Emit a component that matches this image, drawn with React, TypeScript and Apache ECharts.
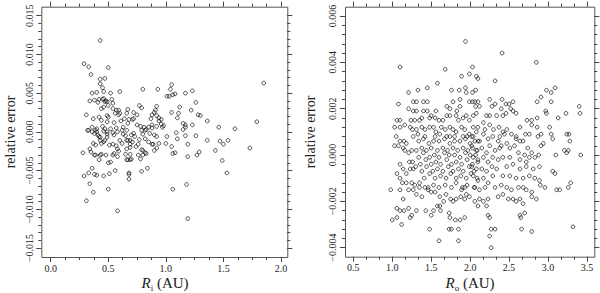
import React, { useEffect, useRef } from "react";
import * as echarts from "echarts";

// Left panel: inner radius R_i (AU) vs relative error
const innerPoints: [number, number][] = [
  [0.43,0.0118],[0.29,0.0088],[0.33,0.0084],[0.50,0.0083],[0.35,0.0074],[0.43,0.0068],[0.47,0.0069],[0.43,0.0062],[0.45,0.0057],[1.85,0.0063],
  [0.46,0.0052],[0.36,0.0050],[0.40,0.0051],[0.52,0.0050],[0.60,0.0052],[0.80,0.0055],[0.93,0.0055],[1.05,0.0061],[1.04,0.0055],[1.06,0.0048],
  [1.08,0.0049],[1.01,0.0046],[1.03,0.0046],[1.17,0.0050],[1.23,0.0053],[1.26,0.0038],[1.22,0.0028],[1.12,0.0032],[1.28,0.0022],[1.30,0.0021],
  [1.11,0.0024],[1.10,0.0018],[1.05,0.0025],[0.98,0.0008],[0.97,0.0006],[0.94,0.0014],[0.94,0.0018],[0.92,0.0021],[0.92,0.0033],[0.91,0.0028],
  [0.90,0.0025],[0.88,0.0022],[0.87,0.0017],[0.88,0.0005],[0.86,-0.0002],[0.90,-0.0004],[0.92,-0.0006],[0.92,-0.0021],[0.90,-0.0024],[0.94,-0.0015],
  [1.00,-0.0015],[1.05,-0.0019],[1.06,-0.0028],[1.08,-0.0027],[1.01,-0.0006],[1.10,-0.0009],[1.09,-0.0001],[1.17,-0.0005],[1.17,0.0006],[1.17,0.0009],
  [1.23,0.0009],[1.26,-0.0005],[1.36,-0.0011],[1.36,0.0014],[1.46,0.0006],[1.60,0.0004],[1.79,0.0013],[1.47,-0.0012],[1.54,-0.0011],[1.50,-0.0016],
  [1.43,-0.0024],[1.73,-0.0021],[1.49,-0.0037],[1.53,-0.0053],[1.29,-0.0026],[1.27,-0.0030],[1.19,-0.0032],[1.19,-0.0016],[1.18,-0.0068],[1.06,-0.0074],
  [1.19,-0.0112],[0.58,-0.0102],[0.31,-0.0089],[0.37,-0.0078],[0.34,-0.0067],[0.29,-0.0057],[0.33,-0.0053],[0.36,-0.0047],[0.38,-0.0055],[0.40,-0.0056],
  [0.46,-0.0057],[0.50,-0.0074],[0.51,-0.0054],[0.56,-0.0050],[0.68,-0.0053],[0.68,-0.0055],[0.68,-0.0061],[0.79,-0.0051],[0.84,-0.0047],[0.50,-0.0040],
  [0.52,-0.0039],[0.28,-0.0027],[0.34,-0.0022],[0.35,-0.0026],[0.38,-0.0030],[0.39,-0.0030],[0.42,-0.0036],[0.43,-0.0030],[0.44,-0.0029],[0.48,-0.0030],
  [0.54,-0.0030],[0.58,-0.0032],[0.66,-0.0036],[0.67,-0.0036],[0.69,-0.0036],[0.70,-0.0035],[0.65,-0.0029],[0.69,-0.0029],[0.76,-0.0030],[0.78,-0.0035],
  [0.80,-0.0030],[0.82,-0.0027],[0.79,-0.0023],[0.80,-0.0024],[0.83,-0.0028],[0.74,-0.0019],[0.76,-0.0016],[0.69,-0.0016],[0.71,-0.0013],[0.69,-0.0011],
  [0.73,-0.0006],[0.77,-0.0010],[0.80,-0.0003],[0.79,0.0002],[0.82,0.0002],[0.75,0.0009],[0.78,0.0007],[0.81,0.0006],[0.77,0.0034],[0.79,0.0031],
  [0.72,0.0025],[0.75,0.0022],[0.71,0.0016],[0.72,0.0017],[0.68,0.0016],[0.67,0.0011],[0.66,0.0024],[0.67,0.0029],[0.63,0.0006],[0.64,0.0017],
  [0.61,0.0014],[0.59,0.0028],[0.59,0.0022],[0.60,0.0024],[0.57,0.0028],[0.54,0.0030],[0.56,0.0024],[0.55,0.0012],[0.57,0.0005],[0.58,0.0000],
  [0.54,-0.0001],[0.55,-0.0004],[0.52,0.0004],[0.49,0.0013],[0.50,0.0019],[0.49,0.0021],[0.49,0.0039],[0.50,0.0034],[0.47,0.0039],[0.48,0.0040],
  [0.45,0.0042],[0.46,0.0043],[0.53,0.0042],[0.54,0.0037],[0.46,0.0032],[0.44,0.0030],[0.41,0.0038],[0.42,0.0042],[0.38,0.0041],[0.34,0.0040],
  [0.31,0.0022],[0.37,0.0017],[0.42,0.0019],[0.44,0.0015],[0.32,0.0002],[0.33,0.0002],[0.36,0.0006],[0.36,0.0000],[0.38,-0.0002],[0.39,0.0002],
  [0.40,0.0004],[0.40,0.0000],[0.41,-0.0004],[0.42,-0.0006],[0.43,-0.0007],[0.37,-0.0015],[0.39,-0.0017],[0.43,-0.0011],[0.44,-0.0015],[0.46,-0.0013],
  [0.47,-0.0011],[0.49,0.0000],[0.49,-0.0003],[0.47,0.0004],[0.46,0.0001],[0.45,0.0007],[0.49,-0.0007],[0.51,-0.0017],[0.54,-0.0016],[0.57,-0.0018],
  [0.58,-0.0022],[0.60,-0.0011],[0.62,-0.0015],[0.63,-0.0003],[0.65,-0.0005],[0.62,0.0002],[0.66,0.0002],[0.59,-0.0025],[0.55,-0.0028],[0.66,-0.0022],
  [0.69,-0.0020],[0.70,-0.0004],[0.72,-0.0002],[0.66,-0.0011],[0.67,-0.0011],[0.82,-0.0009],[0.85,-0.0013],[0.88,-0.0016],[0.83,0.0003],[0.85,0.0006],
  [0.88,0.0009],[0.92,0.0007],[0.96,0.0010],[0.96,0.0016],[0.89,-0.0016],[1.15,0.0003],[1.15,0.0011]
];

// Right panel: outer radius R_o (AU) vs relative error
const outerPoints: [number, number][] = [
  [1.94,0.0049],[1.10,0.0038],[1.68,0.0037],[1.99,0.0035],[1.89,0.0034],[2.03,0.0038],[1.58,0.0031],[1.21,0.0027],[1.33,0.0028],[1.45,0.0029],
  [1.76,0.0028],[1.94,0.0029],[1.86,0.0028],[1.95,0.0027],[2.03,0.0027],[2.07,0.0028],[1.27,0.0023],[1.31,0.0023],[1.40,0.0023],[1.45,0.0023],
  [1.08,0.0022],[1.87,0.0024],[1.78,0.0023],[2.03,0.0023],[1.99,0.0023],[1.21,0.0020],[1.27,0.0019],[1.31,0.0019],[1.40,0.0019],[1.45,0.0019],
  [1.56,0.0019],[1.70,0.0021],[1.74,0.0020],[1.87,0.0021],[1.83,0.0019],[2.06,0.0023],[2.10,0.0023],[1.06,0.0015],[1.10,0.0015],[1.16,0.0013],
  [1.24,0.0015],[1.29,0.0015],[1.35,0.0015],[1.38,0.0016],[1.48,0.0016],[1.50,0.0017],[1.55,0.0016],[1.60,0.0015],[1.65,0.0015],[1.70,0.0017],
  [1.74,0.0017],[1.82,0.0017],[1.85,0.0015],[1.91,0.0016],[1.95,0.0017],[1.99,0.0015],[2.04,0.0017],[2.08,0.0018],[1.03,0.0012],[1.10,0.0012],
  [1.23,0.0012],[1.26,0.0011],[1.31,0.0011],[1.38,0.0012],[1.42,0.0011],[1.48,0.0012],[1.53,0.0012],[1.56,0.0010],[1.63,0.0012],[1.68,0.0011],
  [1.74,0.0012],[1.78,0.0011],[1.82,0.0010],[1.89,0.0012],[1.93,0.0011],[1.99,0.0009],[2.04,0.0012],[2.08,0.0010],[1.91,0.0008],[1.96,0.0008],
  [2.02,0.0008],[1.70,0.0008],[1.74,0.0008],[1.80,0.0008],[1.27,0.0008],[1.33,0.0009],[1.42,0.0008],[1.55,0.0008],[1.61,0.0009],
  [1.05,0.0008],[1.10,0.0006],[1.15,0.0006],[1.18,0.0005],[1.03,0.0004],[1.08,0.0004],[1.14,0.0003],[1.16,0.0002],[1.21,0.0001],[1.25,0.0002],
  [1.10,-0.0004],[1.22,-0.0003],[1.26,-0.0003],[1.23,-0.0006],[1.27,-0.0006],[1.30,-0.0005],[1.14,-0.0006],[1.18,-0.0008],[1.06,-0.0008],[1.10,-0.0010],
  [1.13,-0.0012],[1.18,-0.0012],[1.25,-0.0012],[1.29,-0.0013],[1.35,-0.0012],[0.98,-0.0015],[1.10,-0.0015],[1.21,-0.0015],[1.27,-0.0015],[1.35,-0.0014],
  [1.42,-0.0014],[1.46,-0.0015],[1.50,-0.0016],[1.31,-0.0017],[1.38,-0.0018],[1.14,-0.0019],[1.06,-0.0023],[1.10,-0.0024],[1.15,-0.0024],[1.21,-0.0023],
  [1.31,-0.0024],[1.43,-0.0024],[1.00,-0.0028],[1.06,-0.0027],[1.12,-0.0030],[1.23,-0.0027],[1.25,-0.0026],[1.50,-0.0026],[1.61,-0.0022],[1.62,-0.0024],
  [1.73,-0.0025],[1.74,-0.0027],[1.81,-0.0028],[1.87,-0.0028],[1.93,-0.0027],[1.48,-0.0032],[1.73,-0.0032],[1.76,-0.0032],[1.85,-0.0032],[1.60,-0.0037],
  [1.85,-0.0037],[1.53,-0.0024],[1.58,-0.0022],[1.66,-0.0020],[1.78,-0.0020],[1.82,-0.0019],[1.93,-0.0019],[1.95,-0.0017],[1.99,-0.0018],[1.89,-0.0015],
  [1.93,-0.0014],[2.06,-0.0020],[2.10,-0.0022],
  [1.34,0.0006],[1.40,0.0007],[1.47,0.0005],[1.53,0.0006],[1.60,0.0006],[1.67,0.0007],[1.74,0.0005],[1.80,0.0006],[1.87,0.0006],[1.94,0.0007],
  [2.00,0.0005],[2.06,0.0006],[2.12,0.0006],[1.31,0.0002],[1.38,0.0003],[1.44,0.0002],[1.50,0.0003],[1.58,0.0002],[1.65,0.0003],[1.71,0.0002],
  [1.78,0.0003],[1.84,0.0002],[1.91,0.0003],[1.97,0.0002],[2.03,0.0003],[2.09,0.0002],[1.34,-0.0001],[1.40,0.0001],[1.48,-0.0001],[1.54,0.0000],
  [1.60,-0.0001],[1.67,0.0001],[1.73,0.0000],[1.80,0.0000],[1.87,-0.0001],[1.94,0.0001],[2.00,0.0000],[2.07,0.0000],[1.36,-0.0004],[1.43,-0.0002],
  [1.50,-0.0004],[1.56,-0.0003],[1.62,-0.0004],[1.70,-0.0002],[1.76,-0.0004],[1.82,-0.0003],[1.89,-0.0004],[1.96,-0.0002],[2.03,-0.0004],[2.10,-0.0003],
  [1.38,-0.0007],[1.44,-0.0005],[1.52,-0.0007],[1.58,-0.0006],[1.65,-0.0007],[1.72,-0.0005],[1.78,-0.0007],[1.85,-0.0006],[1.91,-0.0007],[1.99,-0.0005],
  [2.05,-0.0007],[1.41,-0.0010],[1.48,-0.0008],[1.55,-0.0010],[1.62,-0.0009],[1.69,-0.0010],[1.75,-0.0008],[1.82,-0.0010],[1.88,-0.0009],[1.95,-0.0010],
  [2.01,-0.0008],[2.09,-0.0010],[1.46,-0.0014],[1.53,-0.0013],[1.60,-0.0014],[1.68,-0.0013],[1.76,-0.0014],[1.82,-0.0012],[1.90,-0.0014],[1.96,-0.0013],
  [2.05,-0.0014],[1.55,-0.0016],[1.61,-0.0018],[1.69,-0.0017],[1.75,-0.0019],[1.88,-0.0018],
  [2.41,0.0044],[2.85,0.0040],[2.08,0.0034],[2.10,0.0033],[2.32,0.0032],[2.98,0.0028],[3.04,0.0027],[3.09,0.0029],[2.91,0.0025],[2.86,0.0023],
  [3.04,0.0023],[2.41,0.0024],[2.25,0.0024],[2.07,0.0021],[2.12,0.0021],[2.28,0.0021],[2.32,0.0022],[2.46,0.0022],[2.50,0.0022],[2.55,0.0023],
  [2.40,0.0020],[2.52,0.0020],[2.55,0.0019],[2.59,0.0018],[2.97,0.0019],[2.98,0.0018],[3.23,0.0018],[3.40,0.0021],[3.41,0.0018],[3.13,0.0016],
  [2.21,0.0017],[2.25,0.0017],[2.34,0.0017],[2.42,0.0017],[2.46,0.0018],[2.73,0.0015],[2.79,0.0015],[2.79,0.0013],[2.86,0.0016],[2.64,0.0012],
  [2.71,0.0009],[2.76,0.0009],[2.86,0.0012],[3.02,0.0012],[3.24,0.0009],[3.27,0.0009],[2.17,0.0014],[2.10,0.0012],[2.19,0.0011],[2.25,0.0013],
  [2.30,0.0011],[2.37,0.0012],[2.42,0.0010],[2.47,0.0011],[2.53,0.0009],[2.59,0.0008],[2.87,0.0008],[3.04,0.0009],[2.91,0.0009],
  [3.28,0.0006],[3.06,0.0007],[2.91,0.0004],[2.94,0.0005],[2.64,0.0006],[2.68,0.0006],[2.74,0.0003],[2.79,0.0001],
  [3.42,0.0000],[3.10,0.0000],[3.21,0.0002],[3.24,0.0001],[3.26,0.0002],[2.51,0.0003],[2.57,0.0004],[2.62,0.0001],[2.70,0.0000],[2.76,-0.0001],
  [2.83,-0.0001],[2.88,0.0000],[3.06,-0.0007],[3.09,-0.0008],[2.89,-0.0011],[2.90,-0.0013],[2.96,-0.0014],[3.11,-0.0015],[3.15,-0.0015],[3.26,-0.0014],
  [3.29,-0.0012],[3.32,-0.0031],[2.85,-0.0019],[2.79,-0.0018],[2.72,-0.0015],[2.64,-0.0019],[2.68,-0.0021],[2.70,-0.0025],[2.64,-0.0026],[2.65,-0.0027],
  [2.66,-0.0032],[2.79,-0.0033],[2.25,-0.0035],[2.27,-0.0040],[2.32,-0.0032],[2.27,-0.0032],[2.12,-0.0019],[2.17,-0.0020],[2.23,-0.0019],[2.21,-0.0022],
  [2.23,-0.0026],[2.25,-0.0027],[2.36,-0.0018],[2.42,-0.0017],[2.49,-0.0019],[2.55,-0.0019],[2.59,-0.0020],[2.32,-0.0014],[2.40,-0.0013],[2.47,-0.0014],
  [2.53,-0.0015],[2.62,-0.0014],[2.68,-0.0014],[2.79,-0.0016],[2.42,-0.0009],[2.51,-0.0009],[2.59,-0.0010],[2.68,-0.0010],[2.76,-0.0009],[2.83,-0.0010],
  [2.47,-0.0005],[2.55,-0.0004],[2.64,-0.0006],[2.72,-0.0005],[2.81,-0.0006],[2.89,-0.0005],[2.42,-0.0001],[2.51,-0.0001],[2.64,-0.0002],[2.72,-0.0003],
  [2.38,0.0008],[2.44,0.0009],[2.59,0.0007],[2.40,0.0004],[2.47,0.0005],
  [2.04,0.0008],[2.10,0.0006],[2.17,0.0009],[2.23,0.0007],[2.29,0.0008],[2.36,0.0006],[2.02,0.0004],[2.08,0.0002],[2.15,0.0003],[2.21,0.0001],
  [2.25,0.0004],[2.32,0.0002],[2.38,0.0003],[2.04,-0.0001],[2.10,-0.0002],[2.17,-0.0001],[2.23,-0.0003],[2.29,-0.0001],[2.36,-0.0002],[2.02,-0.0005],
  [2.08,-0.0006],[2.15,-0.0006],[2.21,-0.0007],[2.28,-0.0005],[2.34,-0.0006],[2.04,-0.0009],[2.10,-0.0011],[2.17,-0.0010],[2.23,-0.0012],[2.29,-0.0009],
  [2.06,-0.0014],[2.12,-0.0015],[2.19,-0.0014]
];

// Axis ranges / tick steps (value units)
const innerXRange = [0, 2, 0.5];
const innerYRange = [-0.015, 0.015, 0.005];
const outerXRange = [0.5, 3.5, 0.5];
const outerYRange = [-0.004, 0.006, 0.002];

const SERIF = "'Liberation Serif', 'Times New Roman', serif";
const INK = "#222";
const TICK = "#444";

const fmtX = (v: number) => v.toFixed(1);
const fmtY = (v: number) => (v < -1e-12 ? "\u2212" : "") + Math.abs(v).toFixed(3);

function xAxes(gridIndex: number, r: number[], offB: number, offT: number, minorN: number) {
  const base = {
    gridIndex,
    type: "value",
    min: r[0],
    max: r[1],
    interval: r[2],
    splitLine: { show: false },
    minorSplitLine: { show: false },
    axisLine: { show: true, onZero: false, lineStyle: { color: "rgba(0,0,0,0)" } },
    axisTick: { show: true, inside: false, length: 5, lineStyle: { color: TICK, width: 1 } },
    minorTick: { show: true, splitNumber: minorN, length: 3, lineStyle: { color: TICK, width: 1 } },
  };
  return [
    {
      ...base,
      position: "bottom",
      offset: offB,
      axisLabel: { show: true, margin: 6, formatter: fmtX, fontFamily: SERIF, fontSize: 10, color: INK },
    },
    { ...base, position: "top", offset: offT, axisLabel: { show: false } },
  ];
}

function yAxes(gridIndex: number, r: number[], offL: number, offR: number, margin: number) {
  const base = {
    gridIndex,
    type: "value",
    min: r[0],
    max: r[1],
    interval: r[2],
    splitLine: { show: false },
    minorSplitLine: { show: false },
    axisLine: { show: true, onZero: false, lineStyle: { color: "rgba(0,0,0,0)" } },
    axisTick: { show: true, inside: false, length: 5, lineStyle: { color: TICK, width: 1 } },
    minorTick: { show: true, splitNumber: 5, length: 3, lineStyle: { color: TICK, width: 1 } },
  };
  return [
    {
      ...base,
      position: "left",
      offset: offL,
      axisLabel: { show: true, rotate: 90, margin, formatter: fmtY, fontFamily: SERIF, fontSize: 10, color: INK },
    },
    { ...base, position: "right", offset: offR, axisLabel: { show: false } },
  ];
}

function axisTitle(x: number, y: number, sub: string) {
  return {
    type: "text",
    x,
    y,
    silent: true,
    style: {
      text: "{r|R}{s|" + sub + "}{n| (AU)}",
      align: "center",
      verticalAlign: "middle",
      fill: INK,
      rich: {
        r: { fontFamily: SERIF, fontStyle: "italic", fontSize: 15, fill: INK, lineHeight: 18 },
        s: { fontFamily: SERIF, fontSize: 9, fill: INK, verticalAlign: "bottom", lineHeight: 18, padding: [6, 0, 0, 0] },
        n: { fontFamily: SERIF, fontSize: 15, fill: INK, lineHeight: 18 },
      },
    },
  };
}

function yTitle(x: number, y: number) {
  return {
    type: "text",
    x,
    y,
    rotation: Math.PI / 2,
    silent: true,
    style: {
      text: "relative error",
      align: "center",
      verticalAlign: "middle",
      fontFamily: SERIF,
      fontSize: 14,
      fill: INK,
    },
  };
}

function frame(x1: number, y1: number, x2: number, y2: number) {
  return {
    type: "rect",
    silent: true,
    shape: { x: x1 + 0.5, y: y1 + 0.5, width: x2 - x1, height: y2 - y1 },
    style: { fill: "none", stroke: "#555", lineWidth: 1 },
  };
}

export default function App() {
  const ref = useRef<HTMLDivElement>(null);
  useEffect(() => {
    if (!ref.current) return;
    const chart = echarts.init(ref.current, undefined, { renderer: "svg" });
    const scatterStyle = {
      symbol: "circle",
      symbolSize: 3.7,
      silent: true,
      itemStyle: { color: "rgba(255,255,255,0)", borderColor: "#111", borderWidth: 0.9 },
      emphasis: { disabled: true },
    };
    chart.setOption({
      animation: false,
      backgroundColor: "#ffffff",
      grid: [
        { left: 50.7, top: 15.7, width: 230.3, height: 232.3 },
        { left: 353.3, top: 16, width: 233.7, height: 231.7 },
      ],
      xAxis: [
        ...xAxes(0, innerXRange, 9, 9, 4),
        ...xAxes(1, outerXRange, 9, 9.3, 3),
      ],
      yAxis: [
        ...yAxes(0, innerYRange, 9.4, 6.3, 7),
        ...yAxes(1, outerYRange, 8.3, 7.3, 8),
      ],
      series: [
        { type: "scatter", xAxisIndex: 0, yAxisIndex: 0, data: innerPoints, ...scatterStyle },
        { type: "scatter", xAxisIndex: 2, yAxisIndex: 2, data: outerPoints, ...scatterStyle },
      ],
      graphic: [
        frame(41.3, 6.7, 287.3, 257),
        frame(345, 6.7, 594.3, 256.7),
        yTitle(10, 132),
        yTitle(310, 132),
        axisTitle(165, 283, "i"),
        axisTitle(470, 283, "o"),
      ],
    });
    return () => chart.dispose();
  }, []);
  return (
    <div
      ref={ref}
      style={{ position: "absolute", left: 0, top: 0, width: 600, height: 293, background: "#fff" }}
    />
  );
}
